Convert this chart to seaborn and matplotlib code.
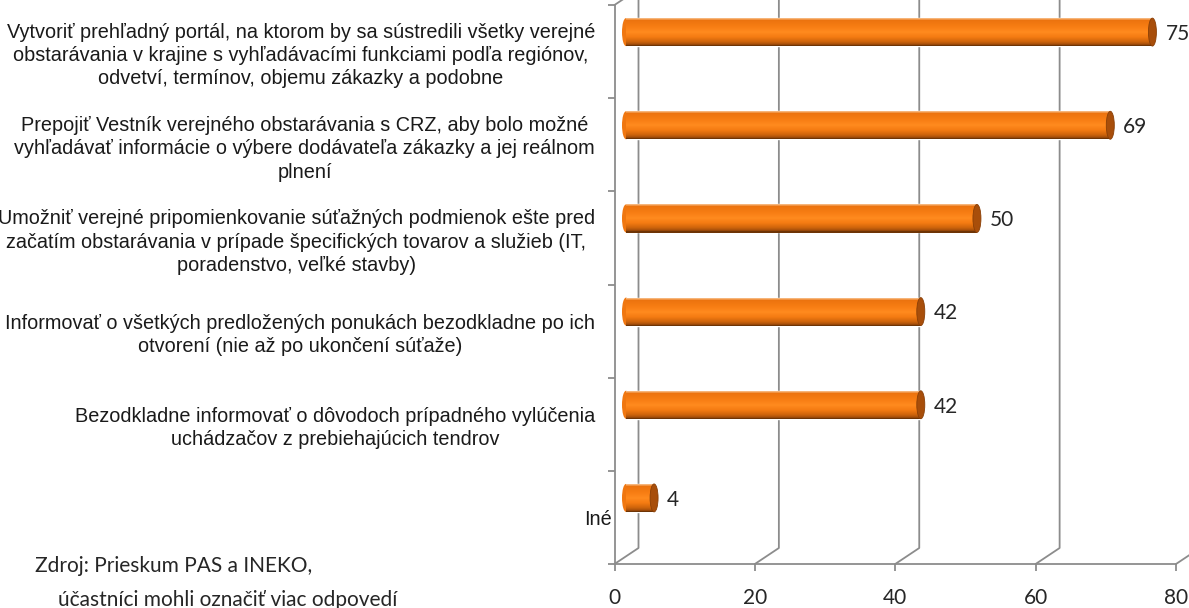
import numpy as np
import pandas as pd
import seaborn as sns
import matplotlib.pyplot as plt
from matplotlib.patches import Rectangle, Ellipse
from matplotlib.colors import LinearSegmentedColormap
from matplotlib.transforms import ScaledTranslation

# Data
categories = [
    'Vytvoriť prehľadný portál, na ktorom by sa sústredili všetky verejné\n'
    'obstarávania v krajine s vyhľadávacími funkciami podľa regiónov,\n'
    'odvetví, termínov, objemu zákazky a podobne',
    'Prepojiť Vestník verejného obstarávania s CRZ, aby bolo možné\n'
    'vyhľadávať informácie o výbere dodávateľa zákazky a jej reálnom\n'
    'plnení',
    'Umožniť verejné pripomienkovanie súťažných podmienok ešte pred\n'
    'začatím obstarávania v prípade špecifických tovarov a služieb (IT,\n'
    'poradenstvo, veľké stavby)',
    'Informovať o všetkých predložených ponukách bezodkladne po ich\n'
    'otvorení (nie až po ukončení súťaže)',
    'Bezodkladne informovať o dôvodoch prípadného vylúčenia\n'
    'uchádzačov z prebiehajúcich tendrov',
    'Iné',
]
values = [75, 69, 50, 42, 42, 4]
x_ticks = [0, 20, 40, 60, 80]
source_lines = ['Zdroj: Prieskum PAS a INEKO,', 'účastníci mohli označiť viac odpovedí']

GRID = '#8c8c8c'
W, H = 1189, 608

sns.set_theme(style='white')
plt.rcParams['font.family'] = ['Liberation Sans', 'DejaVu Sans']

fig = plt.figure(figsize=(W / 100, H / 100), dpi=100)
ax = fig.add_axes([614.5 / W, 44 / H, (1176 - 614.5) / W, 559 / H])

df = pd.DataFrame({'moznost': categories, 'podiel': values})
sns.barplot(data=df, x='podiel', y='moznost', orient='h', color='#f47a12',
            saturation=1, width=0.3, ax=ax)
ax.set_xlim(0, 80)
ax.set_ylim(len(categories) - 0.5, -0.5)

# pixel -> data conversion for the fake 3D depth
px_x = (1176 - 614.5) / 80
px_y = 559 / len(categories)
dx, dy = 24 / px_x, 16 / px_y
bar_dx, bar_dy = 11.5 / px_x, -19.5 / px_y
cap_w = 8 / px_x

# floor + back wall gridlines
y_floor, y_top = len(categories) - 0.5, -0.5
for v in x_ticks:
    ax.plot([v, v + dx, v + dx], [y_floor, y_floor - dy, y_top - dy],
            color=GRID, lw=1.3, clip_on=False, zorder=1)
ax.plot([0, dx], [y_top, y_top - dy], color=GRID, lw=1.3, clip_on=False, zorder=1)

# cylinder look for the bars
cyl = LinearSegmentedColormap.from_list('cyl', [
    (0.0, '#f6b57a'), (0.07, '#ec730e'), (0.3, '#f77d13'), (0.5, '#ff8a1e'),
    (0.68, '#f47b12'), (0.85, '#d0650b'), (0.95, '#a9500a'), (1.0, '#6e3405')])
n = 28
for p, v in zip(ax.patches, values):
    p.set_x(p.get_x() + bar_dx)
    p.set_y(p.get_y() + bar_dy)
    x0, y0, w, h = p.get_x(), p.get_y(), p.get_width(), p.get_height()
    yc = y0 + h / 2
    p.set_zorder(2)
    ax.add_patch(Ellipse((x0, yc), cap_w, h, fc='#f07710', lw=0, zorder=2))
    for i in range(n):
        ax.add_patch(Rectangle((x0, y0 + i * h / n), w, h / n + 0.002,
                               fc=cyl(i / (n - 1)), lw=0, zorder=3))
    ax.add_patch(Ellipse((x0 + w, yc), cap_w, h, fc='#a84e0a',
                         ec='#8a3f06', lw=0.6, zorder=4))
    ax.text(x0 + w + 13 / px_x, yc + 0.02, f'{v:g}', va='center', ha='left',
            fontsize=15, family=['Lato', 'DejaVu Sans'], zorder=5)

# axes styling
for s in ['top', 'right']:
    ax.spines[s].set_visible(False)
for s in ['left', 'bottom']:
    ax.spines[s].set_color(GRID)
    ax.spines[s].set_linewidth(1.3)
ax.set_xticks(x_ticks)
ax.set_xticklabels([str(t) for t in x_ticks], family=['Lato', 'DejaVu Sans'], fontsize=15)
ax.tick_params(axis='x', length=5, width=1.3, color=GRID, direction='out', pad=12,
               bottom=True)
ax.set_yticks(range(len(categories)))
ax.set_yticklabels(categories, fontsize=14.3, multialignment='center',
                   color='#1a1a1a', linespacing=1.28)
ax.set_yticks(np.arange(-0.5, len(categories)), minor=True)
ax.tick_params(axis='y', which='major', length=0, pad=14)
ax.tick_params(axis='y', which='minor', length=5, width=1.3, color=GRID,
               direction='out', left=True)
# the last label ("Iné") sits closer to the axis in the original
last = ax.get_yticklabels()[-1]
last.set_transform(last.get_transform() + ScaledTranslation(0.17, 0, fig.dpi_scale_trans))
ax.set_xlabel('')
ax.set_ylabel('')
ax.grid(False)

fig.text(35 / W, 1 - 572 / H, source_lines[0], ha='left', va='baseline',
         fontsize=15, family=['Lato', 'DejaVu Sans'])
fig.text(58 / W, 1 - 606 / H, source_lines[1], ha='left', va='baseline',
         fontsize=15, family=['Lato', 'DejaVu Sans'])

fig.savefig('out.png', dpi=100)
